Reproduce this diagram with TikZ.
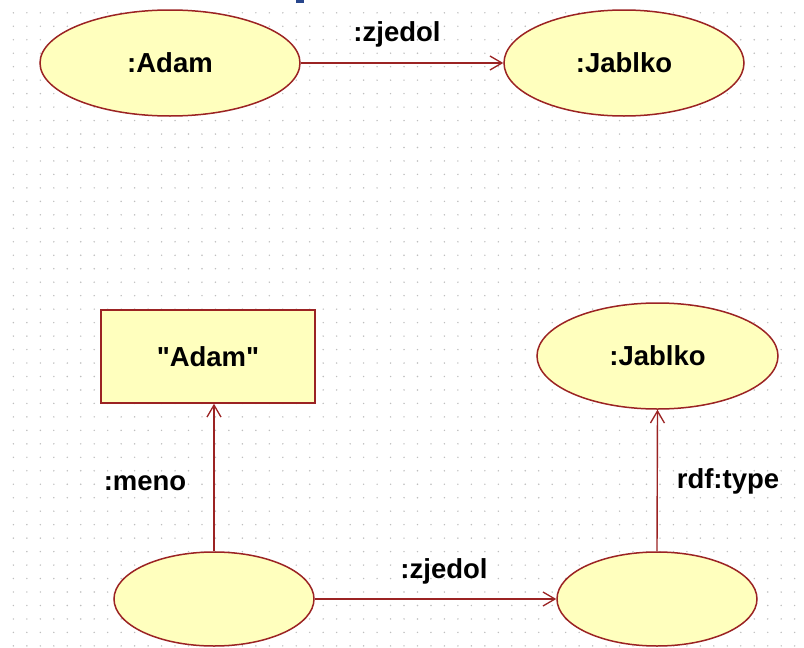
\documentclass[tikz,border=0pt]{standalone}
\usepackage{fontspec}
\setmainfont{Liberation Sans}[Ligatures=TeXOff]
\usetikzlibrary{arrows.meta,shapes.geometric}
\definecolor{edgered}{RGB}{155,35,35}
\definecolor{objfill}{RGB}{255,255,190}
\definecolor{griddot}{RGB}{190,190,190}
\definecolor{markblue}{RGB}{40,70,140}
\begin{document}
\begin{tikzpicture}[x=1pt,y=-1pt,
  every node/.style={font=\fontsize{27.5}{32}\selectfont\bfseries, inner sep=0pt},
  objell/.style={ellipse, draw=edgered, fill=objfill, line width=1.5pt},
  litbox/.style={rectangle, draw=edgered, fill=objfill, line width=1.5pt},
  rel/.style={draw=edgered, line width=1.4pt,
    -{Straight Barb[length=12pt,width=14pt,line width=1.3pt]}},
  lbl/.style={anchor=base, text=black}]
  % canvas and dot grid
  \fill[white] (0,0) rectangle (804,648);
  \useasboundingbox (0,0) rectangle (804,648);
  \foreach \i in {0,...,59} {
    \foreach \j in {0,...,47} {
      \fill[griddot] ({13.4+13.47*\i},{12.8+13.47*\j}) circle (0.8pt);
    }
  }
  \fill[markblue] (296,0) rectangle (304,3);

  % upper statement
  \node[objell, minimum width=260pt, minimum height=106pt] (adam) at (170,63) {:Adam};
  \node[objell, minimum width=240pt, minimum height=106pt] (jab1) at (624,63) {:Jablko};
  \draw[rel] (adam) -- (jab1);
  \node[lbl] (l1) at (397,41) {:zjedol};

  % lower graph
  \node[litbox, minimum width=214pt, minimum height=93pt] (lit) at (208,356.5) {"Adam"};
  \node[objell, minimum width=241pt, minimum height=106pt] (jab2) at (657.5,356) {:Jablko};
  \node[objell, minimum width=200pt, minimum height=94pt] (b1) at (214,599) {};
  \node[objell, minimum width=200pt, minimum height=94pt] (b2) at (657,599) {};
  \draw[rel] (b1.north) -- (b1.north |- lit.south);
  \draw[rel] (b2.north) -- (jab2.south);
  \draw[rel] (b1) -- (b2);
  \node[lbl] (l2) at (145,490) {:meno};
  \node[lbl] (l3) at (728,488) {rdf:type};
  \node[lbl] (l4) at (444,578) {:zjedol};
\end{tikzpicture}
\end{document}
